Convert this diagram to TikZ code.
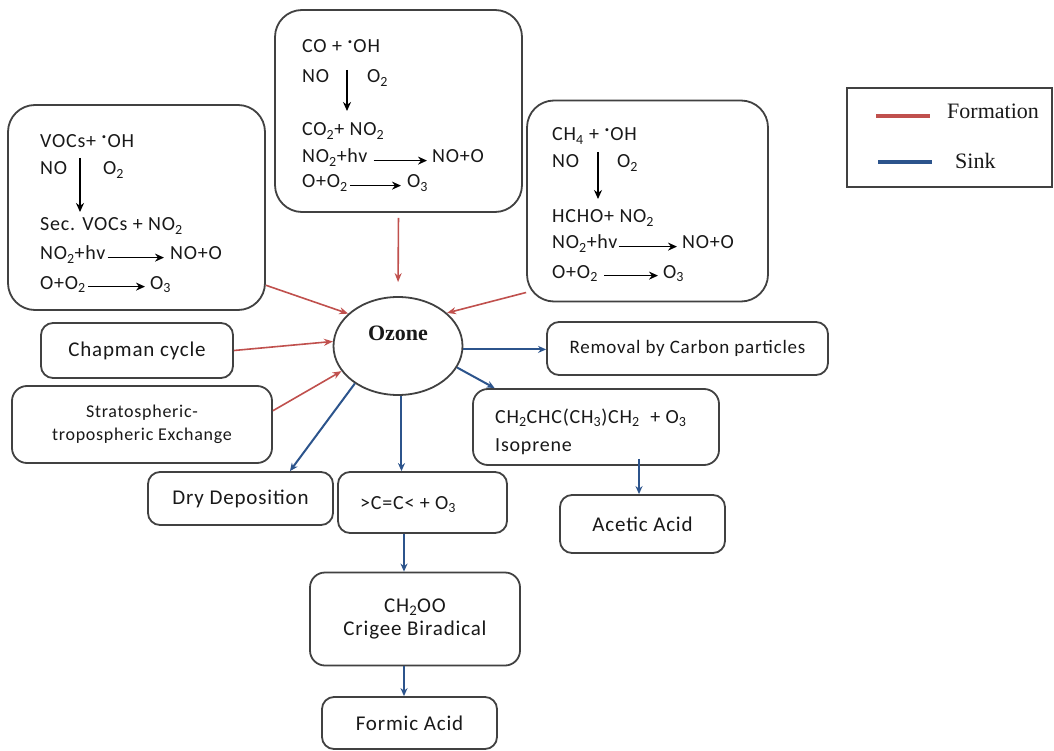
\documentclass[tikz,border=0pt]{standalone}
\usepackage{fontspec}
\setmainfont{Carlito}[LetterSpace=4]
\newfontfamily\tnr{Liberation Serif}
\usetikzlibrary{arrows.meta,calc,shapes.geometric}
\definecolor{fred}{RGB}{192,80,77}
\definecolor{sblue}{RGB}{44,84,140}
\definecolor{bord}{RGB}{65,65,65}
\definecolor{txt}{RGB}{25,25,25}
\newcommand{\sbs}[1]{\textsubscript{#1}}
\newcommand{\rad}{\raisebox{0.45em}{\textbf{.}}}
\tikzset{
  bigbox/.style={draw=bord, line width=1.8pt, rounded corners=27pt, inner sep=0pt},
  smallbox/.style={draw=bord, line width=1.8pt, rounded corners=12pt, align=center, inner sep=0pt, text=txt, font=\fontsize{21}{25}\selectfont},
  rt/.style={anchor=base west, inner sep=0pt, text=txt, font=\fontsize{20}{24}\selectfont},
  rarr/.style={line width=1.6pt, -{Stealth[length=9pt,width=8pt]}},
  formation/.style={draw=fred, line width=1.6pt, -{Stealth[length=9pt,width=7pt]}},
  sink/.style={draw=sblue, line width=2pt, -{Stealth[length=8pt,width=7pt]}},
}
\begin{document}
\begin{tikzpicture}[x=1pt,y=-1pt]
\useasboundingbox (0,0) rectangle (1054,751);
\fill[white] (0,0) rectangle (1054,751);

% ---------- reaction boxes ----------
\node[bigbox, minimum width=257pt, minimum height=205pt] (voc) at (136.5,207.5) {};
\node[bigbox, minimum width=247pt, minimum height=202pt] (co) at (398.5,111) {};
\node[bigbox, minimum width=241pt, minimum height=201pt] (ch4) at (647.5,201) {};

% VOCs box text
\node[rt] (v1) at (40,148) {VOCs+ \rad OH};
\node[rt] (v2) at (40,175) {NO};
\node[rt] (v3) at (103,175) {O\sbs{2}};
\node[rt] (v4) at (40,231) {Sec. VOCs + NO\sbs{2}};
\node[rt] (v5) at (40,260) {NO\sbs{2}+hv};
\node[rt] (v6) at (170,260) {NO+O};
\node[rt] (v7) at (40,289) {O+O\sbs{2}};
\node[rt] (v8) at (150,289) {O\sbs{3}};
\coordinate (va) at (80,158);
\coordinate (vb) at (80,212);
\draw[rarr] (va) -- (vb);
\draw[rarr] ([xshift=2pt]v5.mid east) -- ([xshift=-6pt]v6.mid west);
\draw[rarr] ([xshift=2pt]v7.mid east) -- ([xshift=-5pt]v8.mid west);

% CO box text
\node[rt] (c1) at (302,53) {CO + \rad OH};
\node[rt] (c2) at (302,83) {NO};
\node[rt] (c3) at (367,83) {O\sbs{2}};
\node[rt] (c4) at (302,136) {CO\sbs{2}+ NO\sbs{2}};
\node[rt] (c5) at (302,163) {NO\sbs{2}+hv};
\node[rt] (c6) at (432,163) {NO+O};
\node[rt] (c7) at (302,188) {O+O\sbs{2}};
\node[rt] (c8) at (407,188) {O\sbs{3}};
\coordinate (ca) at (347,70);
\coordinate (cb) at (347,111);
\draw[rarr] (ca) -- (cb);
\draw[rarr] ([xshift=6pt]c5.mid east) -- ([xshift=-5pt]c6.mid west);
\draw[rarr] ([xshift=2pt]c7.mid east) -- ([xshift=-6pt]c8.mid west);

% CH4 box text
\node[rt] (h1) at (552,141) {CH\sbs{4} + \rad OH};
\node[rt] (h2) at (552,168) {NO};
\node[rt] (h3) at (617,168) {O\sbs{2}};
\node[rt] (h4) at (552,223) {HCHO+ NO\sbs{2}};
\node[rt] (h5) at (552,249) {NO\sbs{2}+hv};
\node[rt] (h6) at (682,249) {NO+O};
\node[rt] (h7) at (552,278) {O+O\sbs{2}};
\node[rt] (h8) at (663,278) {O\sbs{3}};
\coordinate (ha) at (598,152);
\coordinate (hb) at (598,199);
\draw[rarr] (ha) -- (hb);
\draw[rarr] ([xshift=1pt]h5.mid east) -- ([xshift=-5pt]h6.mid west);
\draw[rarr] ([xshift=6pt]h7.mid east) -- ([xshift=-5pt]h8.mid west);

% ---------- legend ----------
\node[draw=bord, line width=2pt, minimum width=205pt, minimum height=99pt, inner sep=0pt] (leg) at (949.5,137.5) {};
\coordinate (lr1) at (876,116);
\coordinate (lr2) at (930,116);
\coordinate (lb1) at (878,162);
\coordinate (lb2) at (932,162);
\draw[fred, line width=4.5pt] (lr1) -- (lr2);
\draw[sblue, line width=4pt] (lb1) -- (lb2);
\node[anchor=base west, inner sep=0pt, font=\tnr\fontsize{22}{26}\selectfont, text=txt] (lf) at (947,119) {Formation};
\node[anchor=base west, inner sep=0pt, font=\tnr\fontsize{22}{26}\selectfont, text=txt] (ls) at (955,169) {Sink};

% ---------- ozone ----------
\node[draw=bord, line width=1.8pt, ellipse, minimum width=129pt, minimum height=98pt, inner sep=0pt] (oz) at (398,346) {};
\node[font=\tnr\bfseries\fontsize{22}{26}\selectfont, text=txt, inner sep=0pt] (ozt) at (398,333) {Ozone};

% ---------- other boxes ----------
\node[smallbox, minimum width=192pt, minimum height=55pt] (chap) at (137,350.5) {Chapman cycle};
\node[smallbox, minimum width=260pt, minimum height=77pt, rounded corners=15pt, font=\fontsize{18}{23}\selectfont] (strato) at (142,424.5) {Stratospheric-\\tropospheric Exchange};
\node[smallbox, minimum width=281pt, minimum height=53pt, font=\fontsize{19}{23}\selectfont] (removal) at (687.5,348.5) {Removal by Carbon particles};
\node[smallbox, minimum width=246pt, minimum height=76pt, rounded corners=15pt] (iso) at (596,427) {};
\node[rt] (iso1) at (495,423) {CH\sbs{2}CHC(CH\sbs{3})CH\sbs{2}\ \ + O\sbs{3}};
\node[rt] (iso2) at (495,451) {Isoprene};
\node[smallbox, minimum width=165pt, minimum height=58pt] (acetic) at (642.5,524) {Acetic Acid};
\node[smallbox, minimum width=185pt, minimum height=53pt] (dry) at (240.5,498.5) {Dry Deposition};
\node[smallbox, minimum width=169pt, minimum height=61pt] (cc) at (422.5,502.5) {};
\node[rt] (cct) at (360,509) {>C=C< + O\sbs{3}};
\node[smallbox, minimum width=210pt, minimum height=93pt, rounded corners=15pt, font=\fontsize{21}{23}\selectfont] (ch2oo) at (415,619) {CH\sbs{2}OO\\Crigee Biradical};
\node[smallbox, minimum width=175pt, minimum height=52pt] (formic) at (409.5,723) {Formic Acid};

% ---------- formation connectors ----------
\draw[formation] (voc.-31) -- (oz.147);
\draw[formation, shorten <=5pt, shorten >=14pt] (co.south) -- (oz.north);
\draw[formation] (ch4.217) -- (oz.34);
\draw[formation] (chap.east) -- (oz.176);
\draw[formation] (strato.6) -- (oz.204);

% ---------- sink connectors ----------
\draw[sink] (oz.-3) -- (oz.-3 -| removal.west);
\draw[sink] (oz.-20) -- (iso.159.4);
\draw[sink] (oz.-86) -- (oz.-86 |- cc.north);
\draw[sink] (oz.221.5) -- (dry.29.7);
\draw[sink] ([xshift=-18.5pt]cc.south) -- ([xshift=-11pt]ch2oo.north);
\draw[sink] ([xshift=-11pt]ch2oo.south) -- ([xshift=-5.5pt]formic.north);
\draw[sink] ([xshift=43pt,yshift=7pt]iso.south) -- ([xshift=-3.5pt]acetic.north);
\end{tikzpicture}
\end{document}
